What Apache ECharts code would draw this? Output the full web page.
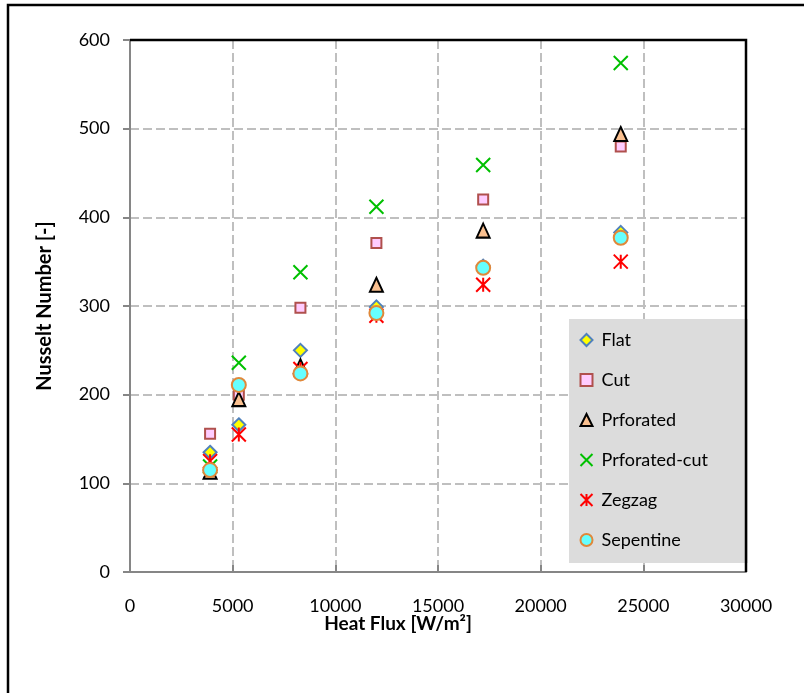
<!DOCTYPE html>
<html>
<head>
<meta charset="utf-8">
<script src="https://cdn.jsdelivr.net/npm/echarts@6/dist/echarts.min.js"></script>
<style>
  html, body { margin: 0; padding: 0; background: #fff; }
  #chart { width: 804px; height: 693px; }
</style>
</head>
<body>
<div id="chart"></div>
<script>
var heatFlux = [3900, 5300, 8300, 12000, 17200, 23900];

var flat = [135, 166, 250, 299, 345, 383];
var cut = [156, 200, 298, 371, 420, 480];
var prforated = [113, 195, 232, 324, 385, 494];
var prforatedCut = [119, 236, 338, 412, 459, 574];
var zegzag = [125, 155, 229, 289, 324, 350];
var sepentine = [115, 211, 224, 292, 343, 377];

function pairs(ys) {
    return heatFlux.map(function (x, i) { return [x, ys[i]]; });
}

var font = 'Lato';
var myChart = echarts.init(document.getElementById('chart'));

var option = {
    backgroundColor: '#fff',
    animation: false,
    graphic: [
        {
            type: 'rect',
            shape: { x: 8, y: 5, width: 900, height: 800 },
            style: { fill: 'none', stroke: '#000', lineWidth: 2.5 },
            silent: true
        },
        {
            type: 'text',
            x: 398,
            y: 624,
            style: {
                text: 'Heat Flux [W/m²]',
                font: 'bold 19px ' + font,
                fill: '#000',
                align: 'center',
                verticalAlign: 'middle'
            }
        },
        // plot area frame, top and right sides
        {
            type: 'polyline',
            shape: { points: [[130, 40], [746, 40], [746, 572]] },
            style: { fill: 'none', stroke: '#000', lineWidth: 2.5 },
            z: 10,
            silent: true
        }
    ],
    grid: {
        left: 130,
        top: 40,
        right: 58,
        bottom: 121
    },
    legend: {
        orient: 'vertical',
        left: 569,
        top: 319,
        width: 168,
        height: 241,
        backgroundColor: '#dcdcdc',
        padding: [12, 40, 14, 9],
        itemGap: 22,
        itemWidth: 12,
        itemHeight: 12,
        textStyle: { fontSize: 18, fontFamily: font, color: '#000', padding: [0, 0, 0, 4] },
        data: ['Flat', 'Cut', 'Prforated', 'Prforated-cut', 'Zegzag', 'Sepentine']
    },
    xAxis: {
        type: 'value',
        min: 0,
        max: 30000,
        interval: 5000,
        axisLine: { show: true, lineStyle: { color: '#868686', width: 2 } },
        axisTick: { show: true, inside: true, length: 7, lineStyle: { color: '#868686', width: 2 } },
        axisLabel: {
            fontSize: 18, fontFamily: font, color: '#000', margin: 25,
            formatter: function (v) { return String(v); }
        },
        splitLine: { show: true, lineStyle: { color: '#bfbfbf', width: 2, type: [9, 4] } }
    },
    yAxis: {
        type: 'value',
        min: 0,
        max: 600,
        interval: 100,
        name: 'Nusselt Number [-]',
        nameLocation: 'middle',
        nameGap: 75,
        nameTextStyle: { fontSize: 20, fontWeight: 'bold', fontFamily: font, color: '#000' },
        axisLine: { show: true, lineStyle: { color: '#868686', width: 2 } },
        axisTick: { show: true, length: 7, lineStyle: { color: '#868686', width: 2 } },
        axisLabel: { fontSize: 18, fontFamily: font, color: '#000', margin: 20 },
        splitLine: { show: true, lineStyle: { color: '#bfbfbf', width: 2, type: [9, 4] } }
    },
    series: [
        {
            name: 'Flat',
            type: 'scatter',
            symbol: 'diamond',
            symbolSize: 13,
            itemStyle: { color: '#ffff00', borderColor: '#4f81bd', borderWidth: 2, opacity: 1 },
            data: pairs(flat)
        },
        {
            name: 'Cut',
            type: 'scatter',
            symbol: 'rect',
            symbolSize: 10,
            itemStyle: { color: '#ffccff', borderColor: '#b0504d', borderWidth: 2, opacity: 1 },
            data: pairs(cut)
        },
        {
            name: 'Prforated',
            type: 'scatter',
            symbol: 'triangle',
            symbolSize: [13, 14],
            itemStyle: { color: '#fac090', borderColor: '#000', borderWidth: 2, opacity: 1 },
            data: pairs(prforated)
        },
        {
            name: 'Prforated-cut',
            type: 'scatter',
            symbol: 'path://M0,0L10,10M10,0L0,10',
            symbolSize: 14,
            itemStyle: { color: 'none', borderColor: '#00c000', borderWidth: 2, opacity: 1 },
            data: pairs(prforatedCut)
        },
        {
            name: 'Zegzag',
            type: 'scatter',
            symbol: 'path://M0,0L10,10M10,0L0,10M5,0L5,10',
            symbolSize: 14,
            itemStyle: { color: 'none', borderColor: '#ff0000', borderWidth: 2, opacity: 1 },
            data: pairs(zegzag)
        },
        {
            name: 'Sepentine',
            type: 'scatter',
            symbol: 'circle',
            symbolSize: 14,
            itemStyle: { color: '#66ffff', borderColor: '#e0883a', borderWidth: 2, opacity: 1 },
            data: pairs(sepentine)
        }
    ]
};

myChart.setOption(option);
</script>
</body>
</html>
